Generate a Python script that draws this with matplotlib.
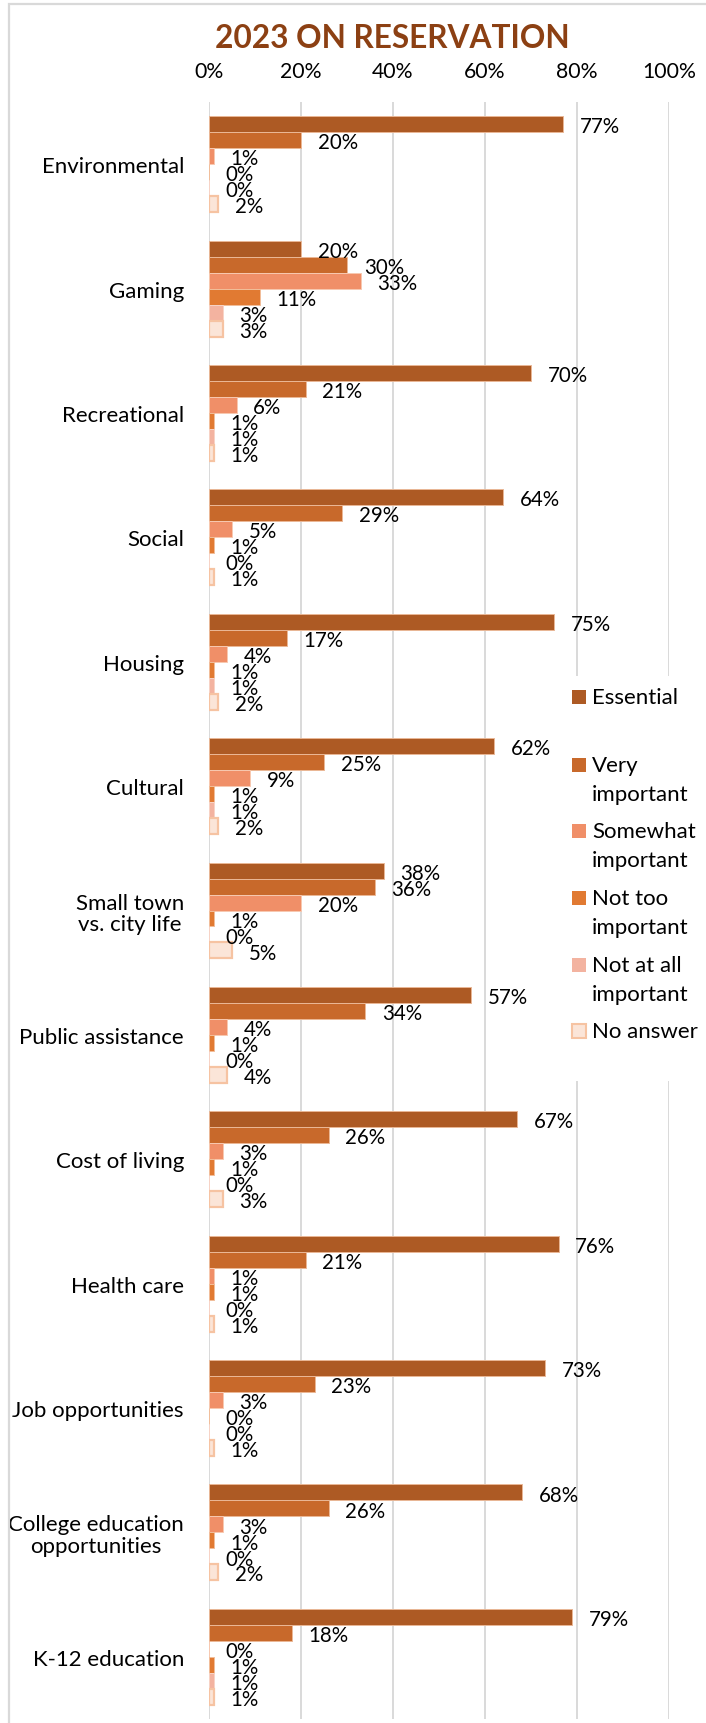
import matplotlib
matplotlib.use("Agg")
import matplotlib.pyplot as plt
from matplotlib.patches import Rectangle
import numpy as np

plt.rcParams["font.family"] = ["Lato", "DejaVu Sans"]

categories = [
    "Environmental", "Gaming", "Recreational", "Social", "Housing", "Cultural",
    "Small town\nvs. city life", "Public assistance", "Cost of living",
    "Health care", "Job opportunities", "College education\nopportunities",
    "K-12 education",
]
series_names = [
    "Essential", "Very important", "Somewhat important",
    "Not too important", "Not at all important", "No answer",
]
legend_lines = [
    ["Essential"], ["Very", "important"], ["Somewhat", "important"],
    ["Not too", "important"], ["Not at all", "important"], ["No answer"],
]
essential = [77, 20, 70, 64, 75, 62, 38, 57, 67, 76, 73, 68, 79]
very_important = [20, 30, 21, 29, 17, 25, 36, 34, 26, 21, 23, 26, 18]
somewhat_important = [1, 33, 6, 5, 4, 9, 20, 4, 3, 1, 3, 3, 0]
not_too_important = [0, 11, 1, 1, 1, 1, 1, 1, 1, 1, 0, 1, 1]
not_at_all_important = [0, 3, 1, 0, 1, 1, 0, 0, 0, 0, 0, 0, 1]
no_answer = [2, 3, 1, 1, 2, 2, 5, 4, 3, 1, 1, 2, 1]
x_ticks = [0, 20, 40, 60, 80, 100]

series = [essential, very_important, somewhat_important,
          not_too_important, not_at_all_important, no_answer]
fills = ["#AD5A24", "#C8692B", "#F08F68", "#E17A32", "#F3B3A0", "#FBE5D8"]
edges = ["#E9B796", "#EBB896", "#F8C9B0", "#F2BE9A", "#F8D3C6", "#F6C3A2"]

W, H = 706, 1724


def fx(px):
    return px / W


def fy(py):
    return 1 - py / H


def main():
    fig = plt.figure(figsize=(W / 100, H / 100), dpi=100)
    ax = fig.add_axes([fx(209), fy(1720), fx(669) - fx(209), (1720 - 103) / H])

    y = np.arange(len(categories))
    h = 0.1286
    for j, vals in enumerate(series):
        pos = y + (j - 2.5) * h
        lw = 1.6 if j == 5 else 0.7
        ax.barh(pos, vals, height=h, color=fills[j], edgecolor=edges[j],
                linewidth=lw, zorder=3)
        for p, v in zip(pos, vals):
            ax.annotate(f"{v}%", (v, p), xytext=(12, -1.5),
                        textcoords="offset points", ha="left", va="center",
                        fontsize=14.8, color="black", zorder=4)

    ax.set_xlim(0, 100)
    ax.set_ylim(len(categories) - 0.5, -0.5)
    ax.set_xticks(x_ticks)
    ax.set_xticklabels([f"{t}%" for t in x_ticks])
    ax.xaxis.tick_top()
    ax.tick_params(axis="x", length=0, pad=15, labelsize=15.3)
    ax.set_yticks(y)
    ax.set_yticklabels(categories, multialignment="center", linespacing=1.1)
    ax.tick_params(axis="y", length=0, pad=18, labelsize=16)
    ax.grid(axis="x", color="#D9D9D9", linewidth=1.4, zorder=0)
    ax.set_axisbelow(True)
    for s in ax.spines.values():
        s.set_visible(False)

    fig.text(fx(392), fy(38), "2023 ON RESERVATION", ha="center", va="center",
             fontsize=22.8, fontweight="bold", color="#8C4013")

    # legend, drawn by hand so the square sits on the first line
    fig.add_artist(Rectangle((fx(563), fy(1082)), fx(706 - 563), (1082 - 677) / H,
                             transform=fig.transFigure, facecolor="white",
                             edgecolor="none", zorder=5))
    entry_y = [698, 766, 832, 899, 966, 1032]
    for j, lines in enumerate(legend_lines):
        yy = entry_y[j]
        lw = 1.5 if j == 5 else 0
        fig.add_artist(Rectangle((fx(572), fy(yy + 7)), fx(14), 14 / H,
                                 transform=fig.transFigure, facecolor=fills[j],
                                 edgecolor=edges[j], linewidth=lw, zorder=6))
        for k, line in enumerate(lines):
            fig.text(fx(592), fy(yy + 29 * k), line, ha="left", va="center",
                     fontsize=16, color="black", zorder=6)

    # chart border
    fig.add_artist(Rectangle((fx(9), fy(1760)), fx(760), (1760 - 5) / H,
                             transform=fig.transFigure, facecolor="none",
                             edgecolor="#D9D9D9", linewidth=1.6, zorder=7))

    fig.savefig("out.png", dpi=100)


if __name__ == "__main__":
    main()
